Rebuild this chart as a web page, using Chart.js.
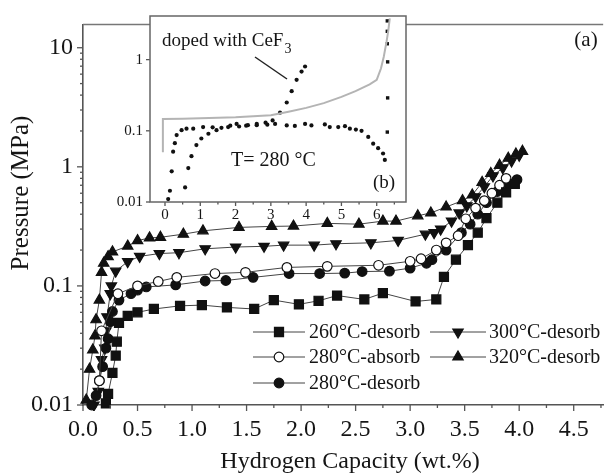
<!DOCTYPE html>
<html>
<head>
<meta charset="utf-8">
<title>PCT curves</title>
<script src="https://cdn.jsdelivr.net/npm/chart.js@4.4.0/dist/chart.umd.min.js"></script>
<style>
  html, body { margin: 0; padding: 0; background: #fff; }
  #wrap { position: relative; width: 611px; height: 474px; }
  #main { position: absolute; left: 0; top: 0; }
  #inset { position: absolute; left: 100px; top: 0; }
</style>
</head>
<body>
<div id="wrap">
  <canvas id="main" width="611" height="474"></canvas>
  <canvas id="inset" width="310" height="232"></canvas>
</div>
<script>
const FONT = "'Liberation Serif', 'Times New Roman', serif";
Chart.defaults.font.family = FONT;

// ---- main plot: hydrogen capacity (wt.%) vs pressure (MPa) ----
const seriesNames = ['260°C-desorb', '280°C-absorb', '280°C-desorb', '300°C-desorb', '320°C-desorb'];

const cap260 = [0.21, 0.23, 0.27, 0.30, 0.31, 0.33, 0.41, 0.50, 0.65, 0.89, 1.09, 1.32, 1.57, 1.75, 1.98, 2.16, 2.33, 2.58, 2.75, 3.05, 3.24, 3.31, 3.42, 3.53, 3.62, 3.70, 3.80, 3.88, 3.96];
const p260   = [0.0103, 0.0124, 0.0186, 0.026, 0.034, 0.049, 0.056, 0.060, 0.064, 0.068, 0.069, 0.066, 0.064, 0.076, 0.070, 0.075, 0.083, 0.077, 0.087, 0.074, 0.077, 0.119, 0.166, 0.22, 0.28, 0.37, 0.50, 0.61, 0.72];

const cap280a = [0.15, 0.17, 0.32, 0.50, 0.69, 0.86, 1.21, 1.49, 1.87, 2.24, 2.71, 3.00, 3.10, 3.24, 3.33, 3.44, 3.51, 3.60, 3.68, 3.75, 3.82, 3.88];
const p280a   = [0.016, 0.042, 0.086, 0.100, 0.109, 0.118, 0.127, 0.130, 0.143, 0.146, 0.149, 0.161, 0.169, 0.200, 0.230, 0.264, 0.366, 0.45, 0.52, 0.60, 0.70, 0.80];

const cap280d = [0.08, 0.12, 0.15, 0.18, 0.21, 0.23, 0.25, 0.27, 0.33, 0.44, 0.50, 0.58, 0.85, 1.12, 1.31, 1.56, 1.89, 2.17, 2.40, 2.56, 2.81, 3.00, 3.15, 3.20, 3.33, 3.47, 3.55, 3.62, 3.70, 3.80, 3.90, 3.98];
const p280d   = [0.010, 0.012, 0.016, 0.021, 0.030, 0.036, 0.050, 0.061, 0.076, 0.086, 0.092, 0.098, 0.102, 0.110, 0.111, 0.118, 0.127, 0.127, 0.128, 0.132, 0.133, 0.141, 0.155, 0.166, 0.200, 0.28, 0.33, 0.40, 0.50, 0.62, 0.72, 0.78];

const cap300 = [0.10, 0.14, 0.17, 0.20, 0.21, 0.22, 0.25, 0.26, 0.30, 0.41, 0.52, 0.70, 0.88, 1.12, 1.40, 1.66, 1.84, 2.12, 2.32, 2.64, 2.89, 3.14, 3.22, 3.28, 3.38, 3.45, 3.52, 3.60, 3.68, 3.76, 3.85, 3.93, 4.00];
const p300   = [0.010, 0.013, 0.024, 0.030, 0.042, 0.055, 0.086, 0.100, 0.133, 0.160, 0.177, 0.187, 0.190, 0.205, 0.212, 0.215, 0.220, 0.220, 0.226, 0.230, 0.241, 0.272, 0.280, 0.300, 0.350, 0.410, 0.47, 0.56, 0.68, 0.84, 0.98, 1.12, 1.25];

const cap320 = [0.03, 0.06, 0.09, 0.11, 0.12, 0.15, 0.17, 0.19, 0.23, 0.27, 0.41, 0.50, 0.61, 0.71, 0.92, 1.10, 1.43, 1.73, 1.93, 2.24, 2.53, 2.75, 2.87, 3.07, 3.19, 3.33, 3.48, 3.57, 3.66, 3.74, 3.82, 3.90, 3.97, 4.03];
const p320   = [0.011, 0.020, 0.029, 0.038, 0.052, 0.076, 0.130, 0.155, 0.176, 0.193, 0.216, 0.240, 0.253, 0.256, 0.272, 0.290, 0.310, 0.316, 0.318, 0.335, 0.330, 0.350, 0.350, 0.388, 0.410, 0.460, 0.520, 0.580, 0.740, 0.88, 1.03, 1.18, 1.28, 1.35];

const xTickLabels = ['0.0', '0.5', '1.0', '1.5', '2.0', '2.5', '3.0', '3.5', '4.0', '4.5'];
const yTickLabels = ['0.01', '0.1', '1', '10'];

// ---- inset (b): T = 280 °C ----
const insDopedAbsX = [0.09, 0.14, 0.19, 0.23, 0.28, 0.33, 0.47, 0.61, 0.80, 1.08, 1.35, 1.60, 1.85, 2.10, 2.35, 2.60, 2.85, 3.05, 3.26, 3.45, 3.59, 3.73, 3.87, 3.97];
const insDopedAbsY = [0.011, 0.0144, 0.027, 0.051, 0.067, 0.087, 0.102, 0.107, 0.107, 0.113, 0.112, 0.110, 0.118, 0.115, 0.120, 0.125, 0.130, 0.140, 0.180, 0.250, 0.360, 0.520, 0.680, 0.800];

const insDopedDesX = [0.57, 0.66, 0.75, 0.89, 1.03, 1.23, 1.46, 1.79, 2.03, 2.30, 2.60, 2.90, 3.12, 3.45, 3.68, 3.97, 4.15, 4.53, 4.67, 4.91, 5.10, 5.24, 5.41, 5.57, 5.76, 5.90, 6.04, 6.18, 6.23];
const insDopedDesY = [0.016, 0.030, 0.044, 0.063, 0.078, 0.091, 0.102, 0.113, 0.125, 0.118, 0.120, 0.122, 0.125, 0.119, 0.117, 0.125, 0.119, 0.123, 0.113, 0.113, 0.116, 0.107, 0.104, 0.100, 0.082, 0.066, 0.057, 0.048, 0.039];

const insRiseX = [6.30, 6.31, 6.31, 6.30, 6.30, 6.30];
const insRiseY = [0.096, 0.29, 0.93, 1.67, 2.5, 3.5];

const insUndopedX = [-0.06, -0.06, 0.5, 1.0, 2.0, 3.0, 3.5, 4.0, 4.5, 5.0, 5.4, 5.8, 6.0, 6.12, 6.2, 6.28, 6.33, 6.37];
const insUndopedY = [0.05, 0.147, 0.148, 0.150, 0.155, 0.165, 0.185, 0.21, 0.245, 0.30, 0.36, 0.45, 0.52, 0.75, 1.1, 1.8, 2.6, 3.8];

const insXTickLabels = ['0', '1', '2', '3', '4', '5', '6'];
const insYTickLabels = ['0.01', '0.1', '1'];

const pts = (xs, ys) => xs.map((x, i) => ({ x, y: ys[i] }));
const isNear = (a, b) => Math.abs(a - b) < 1e-9;

// outward tick marks, long for labelled ticks, short for the rest
const tickMarks = {
  id: 'tickMarks',
  afterDraw(chart, args, opts) {
    const { ctx, chartArea: a } = chart;
    ctx.save();
    ctx.strokeStyle = '#555';
    ctx.lineWidth = 1.3;
    Object.values(chart.scales).forEach(s => {
      s.ticks.forEach(t => {
        const len = t.big ? opts.major : opts.minor;
        const p = s.getPixelForValue(t.value);
        ctx.beginPath();
        if (s.isHorizontal()) { ctx.moveTo(p, a.bottom); ctx.lineTo(p, a.bottom + len); }
        else { ctx.moveTo(a.left, p); ctx.lineTo(a.left - len, p); }
        ctx.stroke();
      });
    });
    ctx.restore();
  }
};

// main chart extras: top frame line, legend, axis titles, panel letter
const mainDecor = {
  id: 'mainDecor',
  afterDraw(chart) {
    const { ctx, chartArea: a } = chart;
    ctx.save();
    ctx.strokeStyle = '#777';
    ctx.lineWidth = 1.5;
    ctx.beginPath(); ctx.moveTo(a.left, a.top); ctx.lineTo(a.right, a.top); ctx.stroke();

    // legend in two columns inside the plot
    const cols = [{ x0: 253, x1: 305, tx: 309 }, { x0: 430, x1: 486, tx: 489 }];
    const rows = [332, 357, 383];
    const place = [[0, 0], [0, 1], [0, 2], [1, 0], [1, 1]];
    ctx.font = '20px ' + FONT;
    ctx.textBaseline = 'middle';
    ctx.textAlign = 'left';
    chart.data.datasets.forEach((ds, i) => {
      const c = cols[place[i][0]], y = rows[place[i][1]];
      ctx.strokeStyle = ds.borderColor; ctx.lineWidth = ds.borderWidth;
      ctx.beginPath(); ctx.moveTo(c.x0, y); ctx.lineTo(c.x1, y); ctx.stroke();
      ctx.fillStyle = ds.pointBackgroundColor; ctx.strokeStyle = ds.pointBorderColor; ctx.lineWidth = ds.pointBorderWidth;
      Chart.helpers.drawPoint(ctx, { pointStyle: ds.pointStyle, radius: ds.pointRadius, rotation: ds.pointRotation || 0, borderWidth: ds.pointBorderWidth }, (c.x0 + c.x1) / 2, y);
      ctx.fillStyle = '#151515';
      ctx.fillText(ds.label, c.tx, y + 1);
    });

    ctx.fillStyle = '#151515';
    ctx.textAlign = 'center';
    ctx.font = '24px ' + FONT;
    ctx.fillText('Hydrogen Capacity (wt.%)', 350, 462);
    ctx.font = '21px ' + FONT;
    ctx.fillText('(a)', 586, 40);
    ctx.save();
    ctx.translate(21, 193);
    ctx.rotate(-Math.PI / 2);
    ctx.font = '25px ' + FONT;
    ctx.fillText('Pressure (MPa)', 0, 0);
    ctx.restore();
    ctx.restore();
  }
};

const ptStyle = (style, r, fill, rot) => ({
  pointStyle: style, pointRadius: r, pointHoverRadius: r, pointRotation: rot || 0,
  pointBackgroundColor: fill, pointBorderColor: '#111', pointBorderWidth: 1.2,
  borderColor: '#444', borderWidth: 1, showLine: true, clip: 6
});

const xMajor = xTickLabels.map(Number);
const yMajor = yTickLabels.map(Number);

new Chart(document.getElementById('main'), {
  type: 'scatter',
  data: {
    datasets: [
      { label: seriesNames[0], data: pts(cap260, p260), ...ptStyle('rect', 6.4, '#111') },
      { label: seriesNames[1], data: pts(cap280a, p280a), ...ptStyle('circle', 4.8, '#fff') },
      { label: seriesNames[2], data: pts(cap280d, p280d), ...ptStyle('circle', 4.8, '#111') },
      { label: seriesNames[3], data: pts(cap300, p300), ...ptStyle('triangle', 6, '#111', 180) },
      { label: seriesNames[4], data: pts(cap320, p320), ...ptStyle('triangle', 6, '#111') }
    ]
  },
  options: {
    responsive: false,
    animation: false,
    layout: { padding: { top: 12, right: 0, left: 0, bottom: 0 } },
    plugins: { legend: { display: false }, tooltip: { enabled: false }, tickMarks: { major: 6, minor: 3 } },
    scales: {
      x: {
        type: 'linear', min: 0, max: 4.77,
        afterBuildTicks: s => {
          const t = [];
          for (let i = 0; i <= 19; i++) {
            const v = i * 0.25;
            t.push({ value: v, big: xMajor.some(m => isNear(m, v)) });
          }
          s.ticks = t;
        },
        afterFit: s => { s.height = 69; },
        grid: { display: true, drawOnChartArea: false, drawTicks: false },
        border: { color: '#555', width: 1.6 },
        ticks: {
          autoSkip: false, maxRotation: 0, padding: 10, color: '#151515', font: { size: 24 },
          callback: v => { const k = xMajor.findIndex(m => isNear(m, v)); return k >= 0 ? xTickLabels[k] : ''; }
        }
      },
      y: {
        type: 'logarithmic', min: 0.01, max: 15.7,
        afterBuildTicks: s => {
          const t = [];
          [0.01, 0.1, 1, 10].forEach(d => {
            for (let m = 1; m <= 9; m++) {
              const v = +(d * m).toPrecision(3);
              if (v <= 15.7) t.push({ value: v, big: m === 1 });
            }
          });
          s.ticks = t;
        },
        afterFit: s => { s.width = 83; },
        grid: { display: true, drawOnChartArea: false, drawTicks: false },
        border: { color: '#555', width: 1.6 },
        ticks: {
          autoSkip: false, padding: 10, color: '#151515', font: { size: 24 },
          callback: v => { const k = yMajor.findIndex(m => isNear(m, v)); return k >= 0 ? yTickLabels[k] : ''; }
        }
      }
    }
  },
  plugins: [tickMarks, mainDecor]
});

// ---- inset chart ----
const insetDecor = {
  id: 'insetDecor',
  beforeDraw(chart) {
    const { ctx, chartArea: a } = chart;
    ctx.save();
    ctx.fillStyle = '#fff';
    ctx.fillRect(a.left, a.top, a.right - a.left, a.bottom - a.top);
    ctx.restore();
  },
  afterDraw(chart) {
    const { ctx, chartArea: a } = chart;
    ctx.save();
    ctx.strokeStyle = '#666';
    ctx.lineWidth = 1.5;
    ctx.strokeRect(a.left, a.top, a.right - a.left, a.bottom - a.top);

    ctx.fillStyle = '#151515';
    ctx.textBaseline = 'alphabetic';
    ctx.textAlign = 'left';
    ctx.font = '19px ' + FONT;
    const lead = 'doped with CeF';
    ctx.fillText(lead, 62, 46);
    const w = ctx.measureText(lead).width;
    ctx.font = '14px ' + FONT;
    ctx.fillText('3', 62 + w + 1, 53);

    ctx.strokeStyle = '#222';
    ctx.lineWidth = 1.5;
    ctx.beginPath(); ctx.moveTo(155, 57); ctx.lineTo(187, 79); ctx.stroke();

    ctx.font = '20px ' + FONT;
    ctx.fillText('T= 280 °C', 131, 166);
    ctx.font = '19px ' + FONT;
    ctx.fillText('(b)', 273, 188);
    ctx.restore();
  }
};

const insXMajor = insXTickLabels.map(Number);
const insYMajor = insYTickLabels.map(Number);
const dotStyle = { pointRadius: 2.1, pointHoverRadius: 2.1, pointBackgroundColor: '#111', pointBorderColor: '#111', pointBorderWidth: 0, showLine: false, clip: 4 };

new Chart(document.getElementById('inset'), {
  type: 'scatter',
  data: {
    datasets: [
      { label: 'undoped', data: pts(insUndopedX, insUndopedY), showLine: true, borderColor: '#b4b4b4', borderWidth: 2, pointRadius: 0 },
      { label: 'doped absorb', data: pts(insDopedAbsX, insDopedAbsY), ...dotStyle },
      { label: 'doped desorb', data: pts(insDopedDesX, insDopedDesY), ...dotStyle },
      { label: 'rise', data: pts(insRiseX, insRiseY), ...dotStyle, pointStyle: 'rect', pointRadius: 2.4 }
    ]
  },
  options: {
    responsive: false,
    animation: false,
    layout: { padding: { top: 12, right: 4, left: 0, bottom: 0 } },
    plugins: { legend: { display: false }, tooltip: { enabled: false }, tickMarks: { major: 4, minor: 2.5 } },
    scales: {
      x: {
        type: 'linear', min: -0.425, max: 6.83,
        afterBuildTicks: s => {
          const t = [];
          for (let i = 0; i <= 13; i++) {
            const v = i * 0.5;
            t.push({ value: v, big: insXMajor.some(m => isNear(m, v)) });
          }
          s.ticks = t;
        },
        afterFit: s => { s.height = 30; },
        grid: { display: true, drawOnChartArea: false, drawTicks: false },
        border: { display: false },
        ticks: {
          autoSkip: false, maxRotation: 0, padding: 4, color: '#151515', font: { size: 15 },
          callback: v => { const k = insXMajor.findIndex(m => isNear(m, v)); return k >= 0 ? insXTickLabels[k] : ''; }
        }
      },
      y: {
        type: 'logarithmic', min: 0.01, max: 4.1,
        afterBuildTicks: s => { s.ticks = insYMajor.map(v => ({ value: v, big: true })); },
        afterFit: s => { s.width = 50; },
        grid: { display: true, drawOnChartArea: false, drawTicks: false },
        border: { display: false },
        ticks: {
          autoSkip: false, padding: 7, color: '#151515', font: { size: 15 },
          callback: v => { const k = insYMajor.findIndex(m => isNear(m, v)); return k >= 0 ? insYTickLabels[k] : ''; }
        }
      }
    }
  },
  plugins: [tickMarks, insetDecor]
});
</script>
</body>
</html>
